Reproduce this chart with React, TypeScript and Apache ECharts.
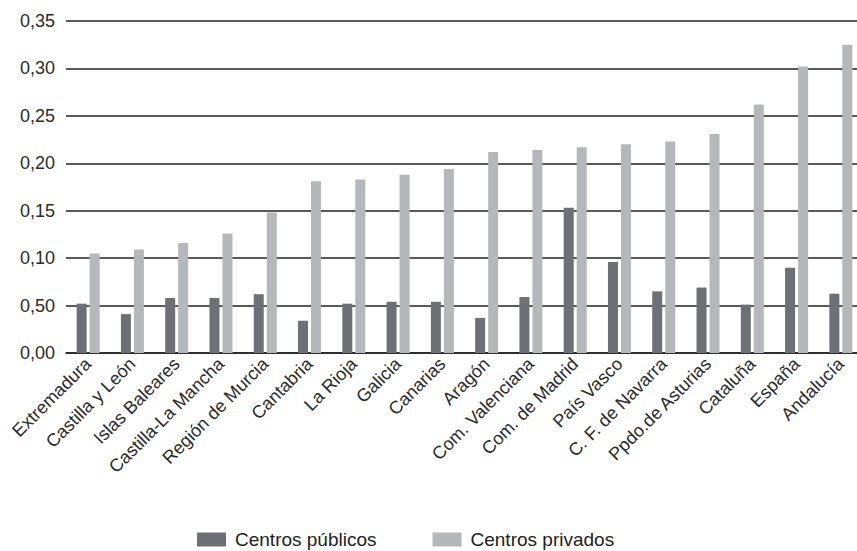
import React, { useEffect, useRef } from "react";
import * as echarts from "echarts";

const categories = [
  "Extremadura", "Castilla y León", "Islas Baleares", "Castilla-La Mancha", "Región de Murcia",
  "Cantabria", "La Rioja", "Galicia", "Canarias", "Aragón", "Com. Valenciana", "Com. de Madrid",
  "País Vasco", "C. F. de Navarra", "Ppdo.de Asturias", "Cataluña", "España", "Andalucía",
];
const publicos = [0.052, 0.041, 0.058, 0.058, 0.062, 0.034, 0.052, 0.054, 0.054, 0.037, 0.059, 0.153, 0.096, 0.065, 0.069, 0.051, 0.090, 0.0625];
const privados = [0.105, 0.109, 0.116, 0.126, 0.148, 0.181, 0.183, 0.188, 0.194, 0.212, 0.214, 0.217, 0.220, 0.223, 0.231, 0.262, 0.302, 0.325];
const yTickLabels = ["0,00", "0,50", "0,10", "0,15", "0,20", "0,25", "0,30", "0,35"];
const seriesNames = ["Centros públicos", "Centros privados"];

const FONT = "'Liberation Sans', Arial, Helvetica, sans-serif";

export default function App() {
  const ref = useRef<HTMLDivElement>(null);
  useEffect(() => {
    const chart = echarts.init(ref.current!, null, { renderer: "svg" });
    chart.setOption({
      animation: false,
      backgroundColor: "#ffffff",
      textStyle: { fontFamily: FONT },
      grid: { left: 66, right: 0, top: 21, bottom: 198, containLabel: false },
      legend: {
        top: 530,
        left: 197,
        padding: 0,
        itemWidth: 29,
        itemHeight: 14,
        itemGap: 56,
        icon: "rect",
        textStyle: { fontFamily: FONT, fontSize: 19, color: "#222", padding: [0, 0, 0, 4] },
        data: seriesNames,
      },
      xAxis: {
        type: "category",
        data: categories,
        axisLine: { lineStyle: { color: "#222", width: 1.5 } },
        axisTick: { show: false },
        axisLabel: { rotate: 45, interval: 0, fontSize: 18, color: "#2a2a2a", fontFamily: FONT, margin: 8 },
      },
      yAxis: {
        type: "value",
        min: 0,
        max: 0.35,
        interval: 0.05,
        axisLine: { show: false },
        axisTick: { show: false },
        splitLine: { lineStyle: { color: "#222", width: 1.5 } },
        axisLabel: {
          fontSize: 18,
          color: "#2a2a2a",
          fontFamily: FONT,
          margin: 11,
          formatter: (v: number) => yTickLabels[Math.round(v / 0.05)] ?? "",
        },
      },
      series: [
        { name: seriesNames[0], type: "bar", data: publicos, barWidth: 10, barGap: "30%", itemStyle: { color: "#6f7075" } },
        { name: seriesNames[1], type: "bar", data: privados, barWidth: 10, itemStyle: { color: "#b6b7ba" } },
      ],
    });
    return () => chart.dispose();
  }, []);
  return (
    <div style={{ position: "fixed", top: 0, left: 0, width: 857, height: 551, overflow: "hidden", background: "#fff" }}>
      <div ref={ref} style={{ width: 863, height: 551 }} />
    </div>
  );
}
